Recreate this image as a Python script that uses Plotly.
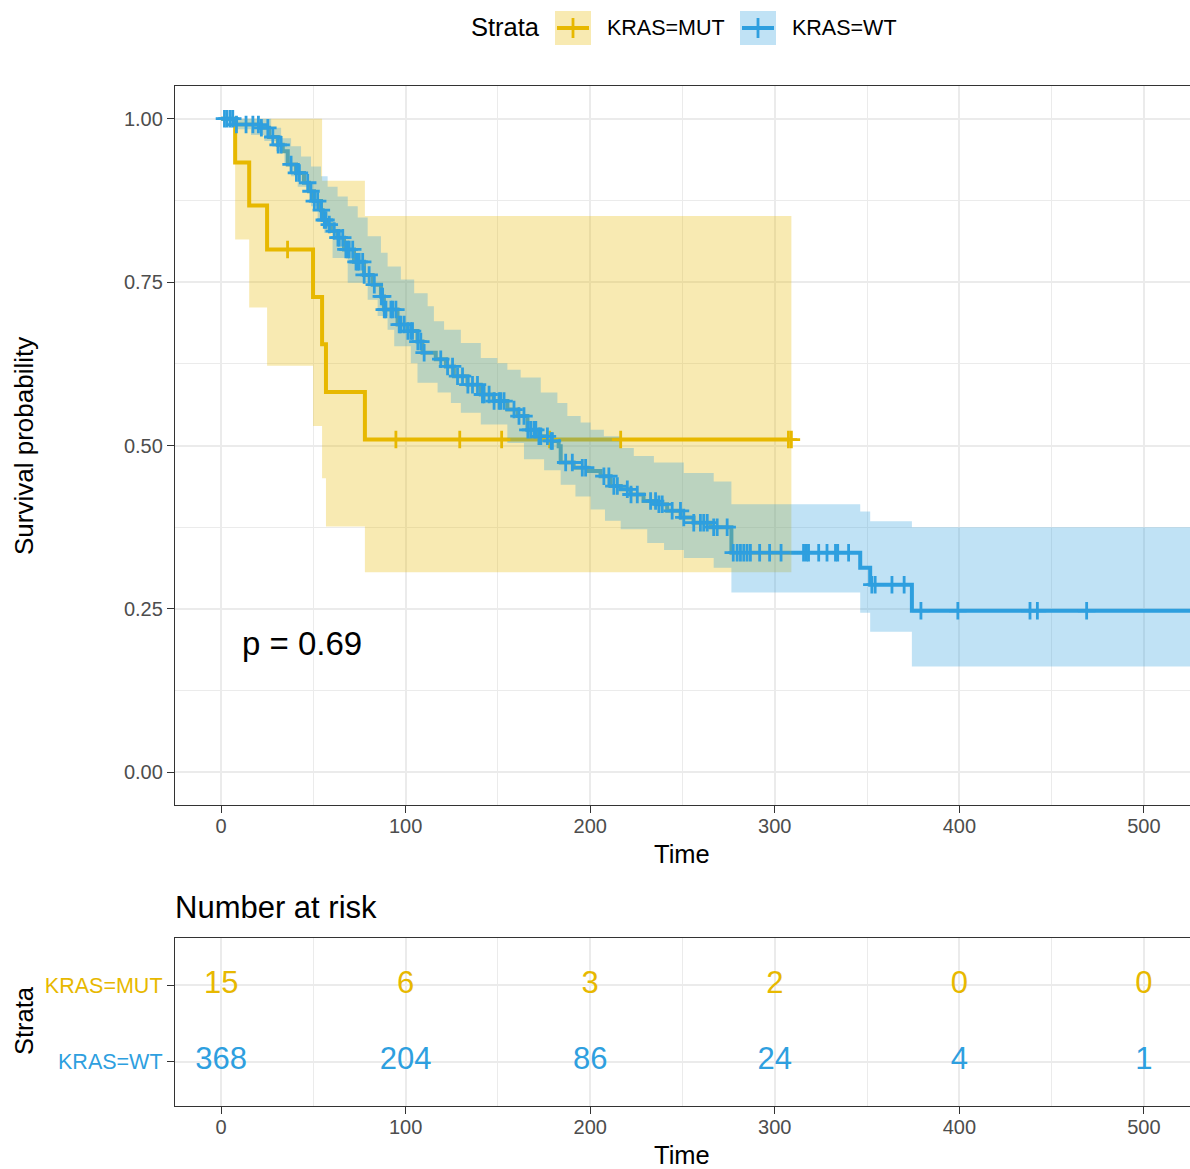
import numpy as np
import plotly.graph_objects as go

# ---------------- data ----------------
MUT_COLOR = "#E7B800"
WT_COLOR = "#2E9FDF"

mut_time = [0, 7.6, 15.2, 24.9, 49.8, 54.7, 56.8, 77.9]
mut_surv = [1.0, 0.933, 0.867, 0.800, 0.727, 0.655, 0.582, 0.509]
mut_end = 309.0
mut_censor = [36.0, 94.7, 129.3, 152.0, 178.0, 216.5, 307.4, 309.0]
mut_up_time = [0, 54.7, 77.9]
mut_up = [1.0, 0.905, 0.851]
mut_lo_time = [0, 7.6, 15.2, 24.9, 49.8, 54.7, 56.8, 77.9]
mut_lo = [1.0, 0.815, 0.711, 0.622, 0.530, 0.450, 0.376, 0.306]

wt_time = [0, 8.1, 21.6, 26.0, 30.7, 33.4, 36.1, 40.6, 44.9, 47.6, 50.3, 54.1, 55.0,
           57.7, 59.5, 63.1, 66.6, 72.0, 77.4, 82.1, 86.6, 88.2, 95.6, 101.0, 106.4,
           109.1, 116.3, 121.8, 126.1, 133.5, 140.7, 147.7, 155.1, 160.6, 166.0, 171.4,
           178.6, 182.9, 184.0, 191.0, 198.4, 205.6, 211.0, 216.5, 221.9, 228.9, 236.3,
           241.7, 249.0, 256.0, 265.2, 276.5, 346.3, 351.7, 374.3]
wt_surv = [1.0, 0.991, 0.986, 0.972, 0.960, 0.950, 0.930, 0.917, 0.902, 0.889, 0.874,
           0.860, 0.845, 0.838, 0.828, 0.818, 0.800, 0.781, 0.761, 0.746, 0.728, 0.708,
           0.685, 0.675, 0.659, 0.642, 0.632, 0.621, 0.606, 0.593, 0.578, 0.568, 0.555,
           0.545, 0.524, 0.514, 0.507, 0.499, 0.474, 0.466, 0.461, 0.453, 0.438, 0.433,
           0.425, 0.415, 0.410, 0.400, 0.390, 0.382, 0.375, 0.336, 0.313, 0.287, 0.247]
wt_end = 540.0
wt_censor = [1.8, 3.2, 4.9, 6.3, 8.3, 13.5, 17.2, 20.2, 21.8, 25.3, 28.0, 30.9, 32.5,
             37.9, 40.8, 42.4, 46.9, 48.7, 50.5, 52.3, 54.3, 55.9, 56.8, 58.6, 61.3,
             63.3, 64.0, 65.9, 67.6, 68.6, 69.4, 71.3, 73.1, 74.0, 74.8, 76.7, 77.5,
             80.2, 83.0, 86.8, 87.5, 88.4, 89.3, 92.0, 92.9, 94.7, 96.5, 97.4, 99.2,
             101.2, 102.8, 103.7, 106.6, 108.2, 110.0, 119.0, 122.7, 125.4, 128.1,
             130.8, 133.7, 136.2, 138.9, 141.6, 142.5, 145.2, 147.9, 150.6, 151.5,
             153.3, 158.7, 161.4, 164.1, 166.2, 167.7, 169.5, 170.5, 172.2, 173.2,
             176.8, 178.8, 179.5, 186.7, 190.3, 195.7, 197.5, 207.4, 210.1, 212.8,
             214.7, 220.1, 222.1, 225.5, 232.7, 235.4, 237.2, 239.0, 244.4, 248.9,
             250.7, 256.1, 259.7, 261.5, 263.4, 266.9, 268.8, 274.2,
             277.5, 279.6, 281.4, 283.2, 285.0, 286.8, 291.8, 297.2, 303.4, 315.6,
             317.1, 318.3, 323.8, 328.3, 332.9, 334.1, 340.0,
             352.6, 354.4, 363.5, 370.1,
             379.2, 399.2, 438.3, 442.3, 469.0]
wt_up_time = [0, 27.1, 32.5, 37.9, 43.3, 48.7, 54.1, 57.7, 63.1, 68.6, 74.0, 79.4, 86.6,
              90.2, 97.4, 104.6, 111.9, 115.3, 120.8, 129.9, 140.7, 149.7, 155.1, 162.3,
              173.2, 182.2, 187.6, 194.8, 200.2, 207.4, 216.5, 223.6, 234.5, 250.7,
              266.9, 276.5, 346.3, 351.7, 374.3]
wt_up = [1.0, 0.986, 0.970, 0.958, 0.942, 0.927, 0.912, 0.896, 0.881, 0.866, 0.849,
         0.820, 0.795, 0.774, 0.754, 0.733, 0.713, 0.690, 0.677, 0.657, 0.634, 0.626,
         0.616, 0.604, 0.581, 0.565, 0.545, 0.535, 0.524, 0.514, 0.496, 0.484, 0.474,
         0.458, 0.445, 0.410, 0.399, 0.384, 0.375]
wt_lo_time = [0, 8.1, 16.2, 23.4, 29.8, 34.3, 37.9, 41.5, 48.7, 52.3, 55.9, 60.4, 68.6,
              79.4, 84.8, 90.2, 93.8, 102.8, 106.4, 117.3, 124.5, 129.9, 140.7, 155.1,
              164.1, 175.0, 184.0, 192.0, 200.2, 208.0, 216.5, 230.9, 240.0, 250.7,
              266.9, 276.5, 346.3, 351.7, 374.3]
wt_lo = [1.0, 0.984, 0.975, 0.966, 0.950, 0.930, 0.912, 0.896, 0.866, 0.845, 0.825,
         0.787, 0.749, 0.723, 0.698, 0.677, 0.652, 0.626, 0.596, 0.581, 0.565, 0.550,
         0.532, 0.504, 0.479, 0.462, 0.440, 0.422, 0.402, 0.385, 0.372, 0.351, 0.340,
         0.328, 0.313, 0.275, 0.244, 0.215, 0.162]

risk_times = [0, 100, 200, 300, 400, 500]
risk_mut = [15, 6, 3, 2, 0, 0]
risk_wt = [368, 204, 86, 24, 4, 1]
strata_labels = ["KRAS=MUT", "KRAS=WT"]
p_text = "p = 0.69"

x_ticks = [0, 100, 200, 300, 400, 500]
y_ticks = [0, 0.25, 0.5, 0.75, 1.0]
y_ticklabels = ["0.00", "0.25", "0.50", "0.75", "1.00"]


# ---------------- helpers ----------------
def step_path(times, vals, t_end):
    xs, ys = [], []
    for i, (t, v) in enumerate(zip(times, vals)):
        nxt = times[i + 1] if i + 1 < len(times) else t_end
        xs += [t, nxt]
        ys += [v, v]
    return xs, ys


def step_value(times, vals, t):
    idx = np.searchsorted(np.array(times), t, side="right") - 1
    return vals[max(idx, 0)]


def band(ut, uv, lt, lv, t_end):
    ux, uy = step_path(ut, uv, t_end)
    lx, ly = step_path(lt, lv, t_end)
    return ux + lx[::-1], uy + ly[::-1]


W, H = 1190, 1169
FONT = "Liberation Sans, Arial, Helvetica, sans-serif"


def px(x):
    return x / W


def py(y):
    return 1 - y / H


fig = go.Figure()

# lines (drawn first, ribbons over them)
for t, s, e, c in [(mut_time, mut_surv, mut_end, MUT_COLOR),
                   (wt_time, wt_surv, wt_end, WT_COLOR)]:
    xs, ys = step_path(t, s, e)
    fig.add_trace(go.Scatter(x=xs, y=ys, mode="lines",
                             line=dict(color=c, width=4),
                             hoverinfo="skip", showlegend=False,
                             xaxis="x", yaxis="y"))

# ribbons
for (ut, uv, lt, lv, e, col) in [
        (mut_up_time, mut_up, mut_lo_time, mut_lo, mut_end, "rgba(231,184,0,0.3)"),
        (wt_up_time, wt_up, wt_lo_time, wt_lo, wt_end, "rgba(46,159,223,0.3)")]:
    bx, by = band(ut, uv, lt, lv, e)
    fig.add_trace(go.Scatter(x=bx, y=by, mode="lines", fill="toself",
                             fillcolor=col, line=dict(width=0),
                             hoverinfo="skip", showlegend=False,
                             xaxis="x", yaxis="y"))

# censor marks
for cens, t, s, c in [(mut_censor, mut_time, mut_surv, MUT_COLOR),
                      (wt_censor, wt_time, wt_surv, WT_COLOR)]:
    cy = [step_value(t, s, ct) for ct in cens]
    fig.add_trace(go.Scatter(x=cens, y=cy, mode="markers",
                             marker=dict(symbol="cross-thin", size=12.5,
                                         line=dict(color=c, width=2.8), color=c),
                             hoverinfo="skip", showlegend=False,
                             xaxis="x", yaxis="y"))

# risk table
for vals, row, c in [(risk_mut, 2, MUT_COLOR), (risk_wt, 1, WT_COLOR)]:
    fig.add_trace(go.Scatter(x=risk_times, y=[row] * len(risk_times), mode="text",
                             text=[str(v) for v in vals],
                             textfont=dict(size=31, color=c, family=FONT),
                             textposition="middle center",
                             hoverinfo="skip", showlegend=False,
                             xaxis="x2", yaxis="y2"))

axis_common = dict(
    showline=True, mirror=True, linecolor="#333333", linewidth=1.3,
    ticks="outside", ticklen=7, tickwidth=1.4, tickcolor="#333333",
    showgrid=True, gridcolor="#EBEBEB", gridwidth=2, zeroline=False,
)
tick_font = dict(size=20, color="#4D4D4D", family=FONT)

x_dom = [px(175), px(1190)]
fig.update_layout(
    width=W, height=H,
    margin=dict(l=0, r=0, t=0, b=0),
    plot_bgcolor="white", paper_bgcolor="white",
    showlegend=False,
    font=dict(family=FONT),
    xaxis=dict(domain=x_dom, range=[-25, 525], tickvals=x_ticks, anchor="y",
               tickfont=tick_font, ticklabelstandoff=-4,
               minor=dict(dtick=50, tick0=0, showgrid=True, gridcolor="#EBEBEB",
                          gridwidth=1, ticks=""),
               **axis_common),
    yaxis=dict(domain=[py(805), py(86)], range=[-0.05, 1.05], tickvals=y_ticks,
               ticktext=y_ticklabels, anchor="x", tickfont=tick_font,
               minor=dict(dtick=0.125, tick0=0, showgrid=True, gridcolor="#EBEBEB",
                          gridwidth=1, ticks=""),
               **axis_common),
    xaxis2=dict(domain=x_dom, range=[-25, 525], tickvals=x_ticks, anchor="y2",
                tickfont=tick_font, ticklabelstandoff=-4,
                minor=dict(dtick=50, tick0=0, showgrid=True, gridcolor="#EBEBEB",
                           gridwidth=1, ticks=""),
                **axis_common),
    yaxis2=dict(domain=[py(1106), py(938)], range=[0.42, 2.62], tickvals=[2, 1],
                ticktext=[f'<span style="color:{MUT_COLOR}">{strata_labels[0]}</span>',
                          f'<span style="color:{WT_COLOR}">{strata_labels[1]}</span>'],
                anchor="x2", tickfont=dict(size=21.5, color="#4D4D4D", family=FONT),
                **axis_common),
)

annotations = [
    dict(text="Survival probability", x=px(24), y=py(446), textangle=-90,
         font=dict(size=26, color="black")),
    dict(text="Time", x=px(682), y=py(854), font=dict(size=25.5, color="black")),
    dict(text="Number at risk", x=px(173), y=py(907), xanchor="left",
         font=dict(size=31, color="black")),
    dict(text="Strata", x=px(24), y=py(1021), textangle=-90,
         font=dict(size=25.5, color="black")),
    dict(text="Time", x=px(682), y=py(1155), font=dict(size=25.5, color="black")),
    dict(text="Strata", x=px(469), y=py(27), xanchor="left",
         font=dict(size=25.5, color="black")),
    dict(text=strata_labels[0], x=px(605), y=py(28), xanchor="left",
         font=dict(size=21.5, color="black")),
    dict(text=strata_labels[1], x=px(790), y=py(28), xanchor="left",
         font=dict(size=21.5, color="black")),
]
for a in annotations:
    a.setdefault("xanchor", "center")
    a.update(xref="paper", yref="paper", yanchor="middle", showarrow=False)
    a["font"]["family"] = FONT
annotations.append(dict(text=p_text, x=10.2, y=0.197, xref="x", yref="y",
                        xanchor="left", yanchor="middle", showarrow=False,
                        font=dict(size=33, color="black", family=FONT)))
fig.update_layout(annotations=annotations)

shapes = []
for x0, col, fill in [(555, MUT_COLOR, "rgba(231,184,0,0.3)"),
                      (740, WT_COLOR, "rgba(46,159,223,0.3)")]:
    shapes.append(dict(type="rect", xref="paper", yref="paper",
                       x0=px(x0), x1=px(x0 + 36), y0=py(45), y1=py(11),
                       fillcolor=fill, line=dict(width=0), layer="below"))
    shapes.append(dict(type="line", xref="paper", yref="paper",
                       x0=px(x0 + 2), x1=px(x0 + 34), y0=py(28), y1=py(28),
                       line=dict(color=col, width=4)))
    shapes.append(dict(type="line", xref="paper", yref="paper",
                       x0=px(x0 + 18), x1=px(x0 + 18), y0=py(18), y1=py(38),
                       line=dict(color=col, width=2.8)))
fig.update_layout(shapes=shapes)

fig.write_html("out.html")
